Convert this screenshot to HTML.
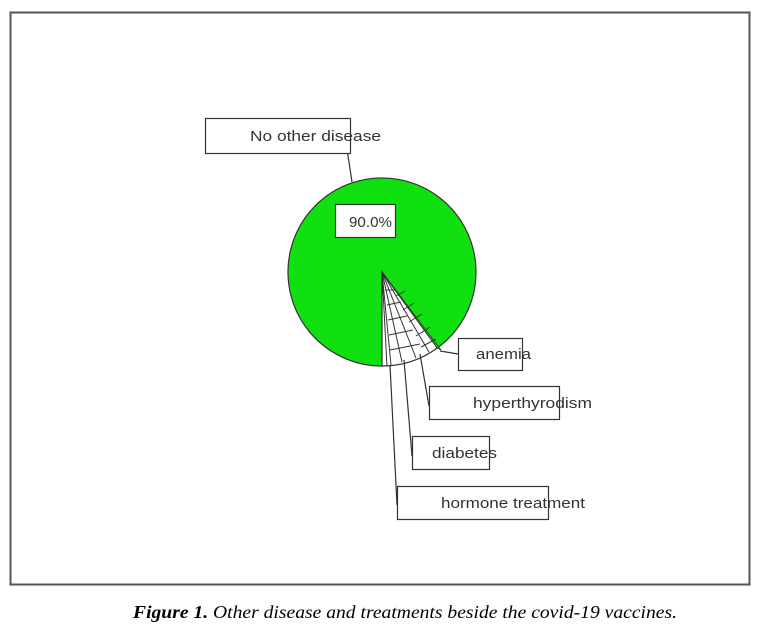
<!DOCTYPE html>
<html><head><meta charset="utf-8"><style>html,body{margin:0;padding:0;background:#fff}svg{display:block}</style></head>
<body>
<svg width="759" height="632" viewBox="0 0 759 632" xmlns="http://www.w3.org/2000/svg">
<rect x="10.5" y="12.5" width="739" height="572" fill="#fff" stroke="#555" stroke-width="2"/>
<path d="M382,272 L382,366 A94,94 0 1 1 437.3,348 Z" fill="#10e010" stroke="#333" stroke-width="1.2"/>
<path d="M382,272 L437.3,348 A94,94 0 0 1 382,366 Z" fill="#fff" stroke="#333" stroke-width="1.2"/>
<path d="M382,272 L441,350 L437.3,348 Z" fill="#10e010" stroke="#333" stroke-width="0.8"/>
<g stroke="#333" stroke-width="1" fill="none">
<line x1="382" y1="272" x2="429" y2="352"/>
<line x1="382" y1="272" x2="416" y2="358"/>
<line x1="382" y1="272" x2="402" y2="362"/>
<line x1="382" y1="272" x2="391" y2="365"/>
<line x1="382" y1="272" x2="387" y2="366"/>
<line x1="385" y1="290" x2="395" y2="290"/><line x1="387" y1="305" x2="401" y2="302"/><line x1="388" y1="320" x2="407" y2="316"/><line x1="389" y1="335" x2="413" y2="330"/><line x1="390" y1="350" x2="420" y2="344"/>
<line x1="396" y1="296" x2="405" y2="291"/><line x1="403" y1="310" x2="414" y2="303"/><line x1="409" y1="322" x2="422" y2="314"/><line x1="416" y1="336" x2="430" y2="327"/><line x1="421" y1="347" x2="436" y2="339"/>
</g>
<g stroke="#333" stroke-width="1.2" fill="none">
<line x1="345" y1="136" x2="352" y2="182"/>
<line x1="440" y1="351" x2="458" y2="354"/>
<line x1="420" y1="354" x2="429" y2="406"/>
<line x1="404" y1="360" x2="412" y2="456"/>
<line x1="390" y1="365" x2="397" y2="505"/>
</g>
<g fill="#fff" stroke="#333" stroke-width="1.2">
<rect x="205.5" y="118.5" width="145" height="35"/>
<rect x="335.5" y="204.5" width="60" height="33"/>
<rect x="458.5" y="338.5" width="64" height="32"/>
<rect x="429.5" y="386.5" width="130" height="33"/>
<rect x="412.5" y="436.5" width="77" height="33"/>
<rect x="397.5" y="486.5" width="151" height="33"/>
</g>
<g font-family="Liberation Sans, Arial, sans-serif" font-size="15" fill="#333" lengthAdjust="spacingAndGlyphs">
<text x="250" y="141" textLength="131" lengthAdjust="spacingAndGlyphs">No other disease</text>
<text x="349" y="227" textLength="43" lengthAdjust="spacingAndGlyphs">90.0%</text>
<text x="476" y="359" textLength="55" lengthAdjust="spacingAndGlyphs">anemia</text>
<text x="473" y="408" textLength="119" lengthAdjust="spacingAndGlyphs">hyperthyrodism</text>
<text x="432" y="458" textLength="65" lengthAdjust="spacingAndGlyphs">diabetes</text>
<text x="441" y="508" textLength="144" lengthAdjust="spacingAndGlyphs">hormone treatment</text>
</g>
<text x="133" y="618" font-family="Liberation Serif, Times New Roman, serif" font-size="18" font-style="italic" textLength="544" lengthAdjust="spacingAndGlyphs"><tspan font-weight="bold">Figure 1.</tspan> Other disease and treatments beside the covid-19 vaccines.</text>
</svg>
</body></html>
